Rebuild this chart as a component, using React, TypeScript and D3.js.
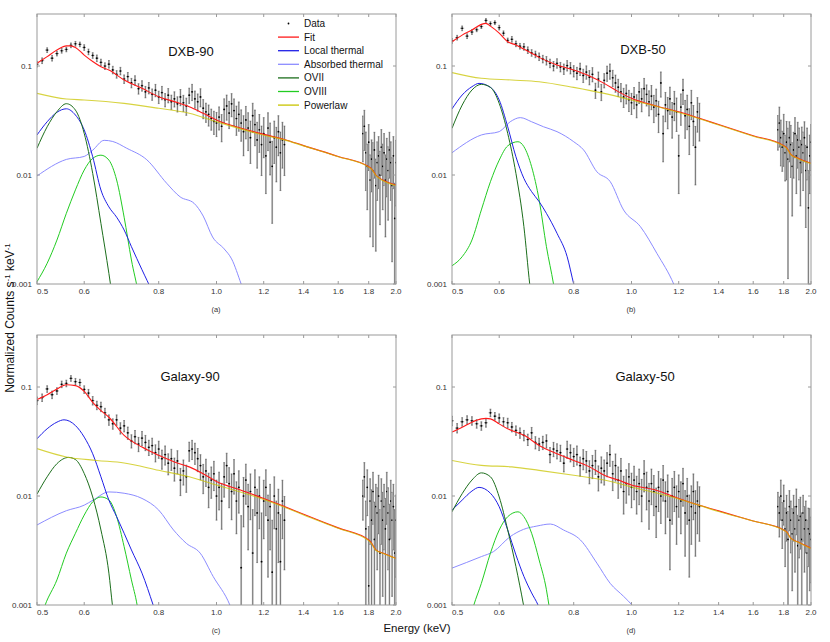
import React from "react";
import * as d3 from "d3";

// ---------- axes ----------
const xTickValues = [0.5, 0.6, 0.8, 1.0, 1.2, 1.4, 1.6, 1.8, 2.0];
const xTickLabels = ["0.5", "0.6", "0.8", "1.0", "1.2", "1.4", "1.6", "1.8", "2.0"];
const yTickValues = [0.1, 0.01, 0.001];
const yTickLabels = ["0.1", "0.01", "0.001"];

const legendLabels = ["Data", "Fit", "Local thermal", "Absorbed thermal", "OVII", "OVIII", "Powerlaw"];

// ---------- data energies (keV) ----------
const lowEnergies = [
  0.50, 0.51, 0.52, 0.53, 0.54, 0.55, 0.56, 0.57, 0.58, 0.59,
  0.60, 0.61, 0.62, 0.63, 0.64, 0.65, 0.66, 0.67, 0.68, 0.69,
  0.70, 0.71, 0.72, 0.73, 0.74, 0.75, 0.76, 0.77, 0.78, 0.79,
  0.80, 0.81, 0.82, 0.83, 0.84, 0.85, 0.86, 0.87, 0.88, 0.89,
  0.90, 0.91, 0.92, 0.93, 0.94, 0.95, 0.96, 0.97, 0.98, 0.99,
  1.00, 1.01, 1.02, 1.03, 1.04, 1.05, 1.06, 1.07, 1.08, 1.09,
  1.10, 1.11, 1.12, 1.13, 1.14, 1.15, 1.16, 1.17, 1.18, 1.19,
  1.20, 1.21, 1.22, 1.23, 1.24, 1.25, 1.26, 1.27, 1.28, 1.29,
  1.30,
];
const highEnergies = [
  1.76, 1.77, 1.78, 1.79, 1.80, 1.81, 1.82, 1.83, 1.84, 1.85,
  1.86, 1.87, 1.88, 1.89, 1.90, 1.91, 1.92, 1.93, 1.94, 1.95,
  1.96, 1.97, 1.98, 1.99, 2.00,
];

// ---------- DXB-90 ----------
const dxb90Low = [
  0.104, 0.112, 0.140, 0.118, 0.130, 0.138, 0.142, 0.155, 0.160, 0.158,
  0.148, 0.135, 0.125, 0.118, 0.108, 0.100, 0.104, 0.092, 0.084, 0.090,
  0.076, 0.080, 0.070, 0.074, 0.062, 0.066, 0.058, 0.063, 0.055, 0.060,
  0.052, 0.057, 0.049, 0.054, 0.047, 0.050, 0.045, 0.052, 0.046, 0.043,
  0.054, 0.058, 0.050, 0.047, 0.052, 0.041, 0.038, 0.036, 0.033, 0.031,
  0.030, 0.034, 0.028, 0.040, 0.043, 0.037, 0.045, 0.039, 0.033, 0.036,
  0.030, 0.025, 0.032, 0.027, 0.022, 0.035, 0.029, 0.021, 0.026, 0.019,
  0.024, 0.015, 0.027, 0.020, 0.012, 0.022, 0.018, 0.025, 0.016, 0.021,
  0.019,
];
const dxb90LowErr = [
  6, 6, 5, 6, 5, 5, 5, 5, 5, 5,
  6, 6, 6, 7, 7, 7, 8, 8, 8, 8,
  9, 9, 10, 10, 11, 11, 12, 12, 12, 13,
  13, 14, 14, 15, 15, 16, 16, 17, 17, 18,
  16, 17, 18, 18, 19, 20, 20, 22, 22, 24,
  25, 24, 28, 25, 26, 28, 24, 28, 30, 30,
  32, 40, 33, 38, 42, 30, 36, 45, 38, 48,
  40, 55, 38, 50, 70, 42, 52, 40, 55, 45,
  48,
];
const dxb90High = [
  0.024, 0.028, 0.016, 0.012, 0.020, 0.009, 0.014, 0.011, 0.017, 0.008,
  0.013, 0.015, 0.010, 0.018, 0.012, 0.016, 0.009, 0.014, 0.011, 0.017,
  0.013, 0.008, 0.015, 0.004, 0.013,
];
const dxb90HighErr = [
  45, 40, 55, 60, 45, 70, 50, 80, 45, 75,
  55, 50, 65, 45, 60, 50, 70, 55, 65, 45,
  55, 80, 50, 110, 60,
];
const dxb90Fit = [
  [0.5, 0.106], [0.52, 0.122], [0.54, 0.140], [0.56, 0.153], [0.57, 0.153], [0.58, 0.148],
  [0.60, 0.126], [0.62, 0.110], [0.64, 0.0986], [0.66, 0.0919], [0.70, 0.0744], [0.75, 0.0624],
  [0.80, 0.0523], [0.85, 0.0471], [0.90, 0.0423], [0.95, 0.0368], [1.0, 0.032], [1.1, 0.0268],
  [1.2, 0.0236], [1.3, 0.0212], [1.4, 0.0186], [1.6, 0.0148], [1.8, 0.0119], [1.82, 0.0114],
  [1.85, 0.0100], [1.9, 0.0090], [2.0, 0.0081],
];
const dxb90Powerlaw = [
  [0.5, 0.0561], [0.56, 0.0498], [0.6, 0.0488], [0.7, 0.0454], [0.8, 0.0409], [0.9, 0.0368],
  [1.0, 0.0308], [1.2, 0.0232], [1.3, 0.0210], [1.4, 0.0185], [1.6, 0.0147], [1.8, 0.0118],
  [1.82, 0.0113], [1.85, 0.0099], [1.9, 0.0089], [2.0, 0.0080],
];
const dxb90Local = [
  [0.5, 0.0233], [0.52, 0.0308], [0.54, 0.0376], [0.56, 0.0405], [0.58, 0.0355], [0.60, 0.0259],
  [0.62, 0.0147], [0.64, 0.00728], [0.66, 0.0051], [0.68, 0.0041], [0.70, 0.00313], [0.72, 0.0022],
  [0.75, 0.00135], [0.78, 0.00085], [0.80, 0.0006],
];
const dxb90Absorbed = [
  [0.5, 0.0098], [0.56, 0.0139], [0.60, 0.0148], [0.62, 0.0169], [0.648, 0.0208], [0.67, 0.0203],
  [0.707, 0.0176], [0.764, 0.0138], [0.825, 0.0084], [0.869, 0.0063], [0.917, 0.0055], [0.95, 0.0042],
  [0.985, 0.0027], [1.03, 0.0021], [1.06, 0.0017], [1.10, 0.001], [1.15, 0.0005],
];
const dxb90OVII = [
  [0.5, 0.0176], [0.52, 0.0277], [0.54, 0.0381], [0.56, 0.0451], [0.58, 0.0394], [0.60, 0.0241],
  [0.62, 0.01035], [0.64, 0.0036], [0.66, 0.00125], [0.68, 0.0004],
];
const dxb90OVIII = [
  [0.5, 0.00105], [0.52, 0.00155], [0.54, 0.00253], [0.56, 0.00445], [0.58, 0.0073], [0.60, 0.0111],
  [0.62, 0.0142], [0.64, 0.0152], [0.66, 0.0137], [0.68, 0.009], [0.70, 0.0041], [0.72, 0.00166],
  [0.74, 0.0008], [0.76, 0.0003],
];

// ---------- DXB-50 ----------
const dxb50Low = [
  0.170, 0.182, 0.222, 0.188, 0.205, 0.215, 0.230, 0.262, 0.245, 0.250,
  0.225, 0.200, 0.172, 0.176, 0.160, 0.152, 0.150, 0.140, 0.132, 0.128,
  0.122, 0.116, 0.112, 0.106, 0.100, 0.106, 0.098, 0.094, 0.101, 0.096,
  0.090, 0.086, 0.094, 0.082, 0.088, 0.079, 0.084, 0.060, 0.076, 0.058,
  0.074, 0.086, 0.090, 0.078, 0.070, 0.064, 0.058, 0.052, 0.056, 0.049,
  0.046, 0.052, 0.044, 0.058, 0.050, 0.062, 0.055, 0.047, 0.053, 0.042,
  0.048, 0.036, 0.070, 0.024, 0.044, 0.039, 0.050, 0.034, 0.045, 0.038,
  0.015, 0.042, 0.060, 0.035, 0.040, 0.028, 0.046, 0.031, 0.018, 0.038,
  0.033,
];
const dxb50LowErr = [
  5, 5, 5, 5, 5, 4, 4, 4, 4, 4,
  5, 5, 5, 6, 6, 6, 7, 7, 7, 7,
  8, 8, 9, 9, 10, 10, 10, 11, 11, 12,
  12, 13, 13, 14, 14, 15, 15, 16, 16, 17,
  15, 16, 16, 17, 18, 18, 19, 20, 20, 22,
  22, 22, 24, 22, 24, 24, 22, 26, 25, 28,
  28, 32, 26, 45, 30, 32, 28, 36, 30, 34,
  55, 32, 26, 38, 35, 45, 30, 40, 55, 35,
  38,
];
const dxb50High = [
  0.026, 0.030, 0.022, 0.018, 0.024, 0.016, 0.020, 0.014, 0.022, 0.019,
  0.012, 0.017, 0.024, 0.015, 0.021, 0.018, 0.013, 0.019, 0.016, 0.022,
  0.011, 0.018, 0.005, 0.015, 0.020,
];
const dxb50HighErr = [
  35, 40, 45, 40, 50, 45, 55, 92, 40, 50,
  65, 45, 40, 55, 45, 50, 60, 45, 55, 40,
  70, 50, 120, 55, 45,
];
const dxb50Fit = [
  [0.5, 0.167], [0.52, 0.192], [0.54, 0.214], [0.56, 0.241], [0.57, 0.246], [0.58, 0.232],
  [0.60, 0.200], [0.62, 0.167], [0.64, 0.156], [0.66, 0.143], [0.70, 0.120], [0.75, 0.102],
  [0.80, 0.0918], [0.85, 0.081], [0.90, 0.0693], [0.95, 0.0582], [1.0, 0.0505], [1.1, 0.043],
  [1.2, 0.0381], [1.3, 0.0331], [1.4, 0.029], [1.6, 0.0229], [1.8, 0.0186], [1.82, 0.0178],
  [1.85, 0.0155], [1.9, 0.0143], [2.0, 0.0128],
];
const dxb50Powerlaw = [
  [0.5, 0.0869], [0.56, 0.0771], [0.63, 0.0744], [0.70, 0.0718], [0.80, 0.0637], [0.90, 0.0561],
  [1.0, 0.0488], [1.2, 0.0375], [1.3, 0.0328], [1.4, 0.0287], [1.6, 0.0227], [1.8, 0.0184],
  [1.82, 0.0176], [1.85, 0.0154], [1.9, 0.0142], [2.0, 0.0127],
];
const dxb50Local = [
  [0.5, 0.0404], [0.52, 0.0542], [0.54, 0.0646], [0.555, 0.0693], [0.58, 0.0637], [0.60, 0.0488],
  [0.62, 0.0277], [0.64, 0.0147], [0.66, 0.0093], [0.68, 0.00703], [0.70, 0.0057], [0.72, 0.00445],
  [0.75, 0.00292], [0.78, 0.00178], [0.80, 0.001], [0.82, 0.0006],
];
const dxb50Absorbed = [
  [0.5, 0.016], [0.56, 0.0233], [0.60, 0.025], [0.626, 0.0308], [0.651, 0.0336], [0.68, 0.0308],
  [0.712, 0.0277], [0.75, 0.025], [0.80, 0.0202], [0.831, 0.017], [0.875, 0.0107], [0.921, 0.0087],
  [0.97, 0.00477], [1.035, 0.00336], [1.103, 0.00191], [1.177, 0.001], [1.22, 0.0006],
];
const dxb50OVII = [
  [0.5, 0.0268], [0.52, 0.0438], [0.54, 0.0602], [0.56, 0.0679], [0.58, 0.0637], [0.60, 0.0454],
  [0.62, 0.0241], [0.64, 0.01035], [0.66, 0.00336], [0.675, 0.001], [0.69, 0.0004],
];
const dxb50OVIII = [
  [0.5, 0.00147], [0.52, 0.00178], [0.54, 0.00253], [0.56, 0.00478], [0.58, 0.00868], [0.60, 0.0137],
  [0.62, 0.0185], [0.645, 0.0202], [0.66, 0.0182], [0.68, 0.0119], [0.70, 0.0059], [0.72, 0.0022],
  [0.74, 0.001], [0.76, 0.0004],
];

// ---------- Galaxy-90 ----------
const galaxy90Low = [
  0.075, 0.080, 0.096, 0.085, 0.092, 0.106, 0.108, 0.120, 0.112, 0.110,
  0.095, 0.088, 0.075, 0.068, 0.066, 0.058, 0.050, 0.046, 0.050, 0.042,
  0.044, 0.038, 0.032, 0.035, 0.030, 0.034, 0.031, 0.028, 0.029, 0.025,
  0.027, 0.022, 0.024, 0.020, 0.022, 0.018, 0.021, 0.014, 0.017, 0.015,
  0.026, 0.027, 0.025, 0.022, 0.019, 0.015, 0.017, 0.012, 0.014, 0.016,
  0.010, 0.012, 0.009, 0.015, 0.019, 0.013, 0.011, 0.016, 0.009, 0.012,
  0.0022, 0.010, 0.014, 0.008, 0.011, 0.003, 0.012, 0.007, 0.010, 0.0025,
  0.009, 0.012, 0.006, 0.008, 0.002, 0.010, 0.005, 0.007, 0.0025, 0.009,
  0.006,
];
const galaxy90LowErr = [
  8, 8, 7, 8, 7, 7, 7, 6, 7, 7,
  8, 8, 9, 9, 10, 10, 11, 11, 11, 12,
  12, 13, 14, 14, 15, 15, 16, 16, 17, 18,
  18, 20, 20, 22, 22, 24, 24, 28, 26, 28,
  20, 20, 22, 24, 26, 30, 28, 35, 32, 30,
  40, 38, 45, 35, 30, 40, 45, 35, 50, 42,
  200, 48, 40, 60, 45, 150, 45, 65, 50, 180,
  55, 45, 70, 60, 200, 50, 80, 65, 170, 55,
  65,
];
const galaxy90High = [
  0.010, 0.015, 0.005, 0.012, 0.0015, 0.009, 0.006, 0.011, 0.004, 0.008,
  0.007, 0.010, 0.003, 0.009, 0.006, 0.008, 0.005, 0.011, 0.007, 0.004,
  0.009, 0.006, 0.008, 0.003, 0.006,
];
const galaxy90HighErr = [
  40, 35, 80, 45, 250, 60, 90, 50, 120, 60,
  70, 55, 150, 60, 80, 60, 90, 50, 70, 110,
  55, 80, 60, 150, 70,
];
const galaxy90Fit = [
  [0.5, 0.0766], [0.52, 0.085], [0.54, 0.0959], [0.56, 0.105], [0.58, 0.103], [0.60, 0.0912],
  [0.62, 0.0724], [0.64, 0.0608], [0.66, 0.0528], [0.70, 0.036], [0.75, 0.0281], [0.80, 0.0236],
  [0.85, 0.0205], [0.90, 0.0185], [0.95, 0.016], [1.0, 0.0136], [1.1, 0.0113], [1.2, 0.0095],
  [1.3, 0.0080], [1.4, 0.0068], [1.6, 0.0051], [1.8, 0.00395], [1.82, 0.0037], [1.85, 0.0032],
  [1.9, 0.0030], [2.0, 0.00268],
];
const galaxy90Powerlaw = [
  [0.5, 0.0272], [0.56, 0.0228], [0.63, 0.0212], [0.70, 0.0201], [0.80, 0.0172], [0.90, 0.015],
  [1.0, 0.0126], [1.2, 0.0093], [1.3, 0.0079], [1.4, 0.0067], [1.6, 0.00505], [1.8, 0.0039],
  [1.82, 0.00365], [1.85, 0.00318], [1.9, 0.00298], [2.0, 0.00267],
];
const galaxy90Local = [
  [0.5, 0.0335], [0.52, 0.0414], [0.54, 0.0476], [0.555, 0.05], [0.58, 0.0443], [0.60, 0.0347],
  [0.62, 0.0244], [0.64, 0.015], [0.66, 0.00917], [0.68, 0.00646], [0.70, 0.00455], [0.72, 0.0032],
  [0.75, 0.00196], [0.783, 0.001], [0.80, 0.0007],
];
const galaxy90Absorbed = [
  [0.5, 0.00542], [0.56, 0.00733], [0.60, 0.00824], [0.621, 0.00917], [0.66, 0.0109], [0.70, 0.0106],
  [0.75, 0.0095], [0.80, 0.00743], [0.847, 0.00488], [0.89, 0.00368], [0.939, 0.00299], [0.987, 0.00183],
  [1.053, 0.001], [1.1, 0.0005],
];
const galaxy90OVII = [
  [0.5, 0.0104], [0.52, 0.015], [0.54, 0.0198], [0.565, 0.0226], [0.58, 0.0216], [0.60, 0.0161],
  [0.62, 0.0098], [0.64, 0.00488], [0.66, 0.00196], [0.669, 0.001], [0.68, 0.0005],
];
const galaxy90OVIII = [
  [0.505, 0.0007], [0.516, 0.001], [0.54, 0.0017], [0.56, 0.00299], [0.58, 0.00455], [0.60, 0.00668],
  [0.62, 0.00885], [0.64, 0.0098], [0.66, 0.0092], [0.68, 0.00646], [0.70, 0.00343], [0.72, 0.0017],
  [0.736, 0.001], [0.75, 0.0005],
];

// ---------- Galaxy-50 ----------
const galaxy50Low = [
  0.049, 0.042, 0.048, 0.050, 0.049, 0.046, 0.044, 0.047, 0.058, 0.054,
  0.052, 0.048, 0.047, 0.043, 0.040, 0.038, 0.036, 0.033, 0.038, 0.031,
  0.030, 0.031, 0.032, 0.024, 0.027, 0.026, 0.025, 0.020, 0.027, 0.025,
  0.023, 0.024, 0.019, 0.022, 0.021, 0.017, 0.019, 0.021, 0.015, 0.018,
  0.017, 0.020, 0.024, 0.016, 0.019, 0.014, 0.017, 0.011, 0.013, 0.015,
  0.012, 0.014, 0.011, 0.013, 0.010, 0.016, 0.012, 0.009, 0.013, 0.011,
  0.008, 0.012, 0.010, 0.014, 0.009, 0.011, 0.006, 0.010, 0.012, 0.008,
  0.011, 0.009, 0.013, 0.007, 0.010, 0.006, 0.008, 0.011, 0.007, 0.009,
  0.008,
];
const galaxy50LowErr = [
  10, 10, 9, 9, 9, 9, 9, 9, 8, 8,
  9, 9, 10, 10, 10, 11, 11, 12, 12, 13,
  13, 14, 14, 16, 15, 16, 17, 17, 18, 18,
  19, 20, 20, 21, 22, 24, 24, 25, 26, 27,
  26, 25, 22, 30, 28, 32, 30, 38, 34, 32,
  35, 34, 38, 36, 42, 32, 38, 45, 36, 40,
  48, 40, 44, 36, 50, 42, 65, 45, 40, 55,
  42, 50, 38, 60, 45, 70, 55, 45, 60, 50,
  52,
];
const galaxy50High = [
  0.008, 0.007, 0.010, 0.006, 0.009, 0.005, 0.007, 0.004, 0.008, 0.006,
  0.0045, 0.007, 0.005, 0.008, 0.0035, 0.006, 0.0065, 0.004, 0.007, 0.005,
  0.006, 0.003, 0.005, 0.0045, 0.004,
];
const galaxy50HighErr = [
  35, 40, 40, 45, 40, 55, 45, 80, 40, 50,
  70, 45, 60, 45, 90, 55, 50, 75, 45, 60,
  50, 100, 55, 70, 60,
];
const galaxy50Fit = [
  [0.5, 0.0386], [0.52, 0.0428], [0.54, 0.0476], [0.56, 0.051], [0.57, 0.0516], [0.58, 0.051],
  [0.60, 0.0459], [0.62, 0.0414], [0.64, 0.0386], [0.66, 0.036], [0.70, 0.0291], [0.75, 0.0244],
  [0.80, 0.0212], [0.85, 0.0185], [0.90, 0.0155], [0.95, 0.014], [1.0, 0.0126], [1.1, 0.0113],
  [1.2, 0.0095], [1.3, 0.00824], [1.4, 0.0073], [1.6, 0.0059], [1.8, 0.00488], [1.82, 0.0047],
  [1.85, 0.0041], [1.9, 0.0038], [2.0, 0.00332],
];
const galaxy50Powerlaw = [
  [0.5, 0.0212], [0.56, 0.0191], [0.63, 0.0185], [0.70, 0.0172], [0.80, 0.0155], [0.90, 0.014],
  [1.0, 0.0121], [1.2, 0.0094], [1.3, 0.0082], [1.4, 0.0072], [1.6, 0.0059], [1.8, 0.00485],
  [1.82, 0.00467], [1.85, 0.00408], [1.9, 0.00378], [2.0, 0.0033],
];
const galaxy50Local = [
  [0.5, 0.00743], [0.52, 0.00917], [0.54, 0.0111], [0.555, 0.012], [0.58, 0.0106], [0.60, 0.00797],
  [0.62, 0.00488], [0.64, 0.00288], [0.66, 0.00183], [0.68, 0.00129], [0.697, 0.001], [0.72, 0.0006],
];
const galaxy50Absorbed = [
  [0.5, 0.00218], [0.56, 0.00278], [0.587, 0.00309], [0.626, 0.00424], [0.659, 0.00494], [0.694, 0.0053],
  [0.731, 0.00553], [0.769, 0.00488], [0.821, 0.00395], [0.875, 0.00242], [0.921, 0.00158], [0.97, 0.0012],
  [1.002, 0.001], [1.05, 0.0007],
];
const galaxy50OVII = [
  [0.5, 0.00716], [0.52, 0.0105], [0.54, 0.014], [0.56, 0.0163], [0.58, 0.015], [0.60, 0.0098],
  [0.62, 0.00488], [0.64, 0.00225], [0.659, 0.001], [0.67, 0.0006],
];
const galaxy50OVIII = [
  [0.53, 0.0006], [0.544, 0.001], [0.56, 0.00158], [0.58, 0.00299], [0.60, 0.00488], [0.62, 0.00646],
  [0.645, 0.00716], [0.66, 0.00646], [0.68, 0.00455], [0.70, 0.00259], [0.72, 0.00138], [0.727, 0.001],
  [0.74, 0.0006],
];

// ---------- layout / styles ----------
const PW = 359;
const PH = 270;
const FONT = "'Liberation Sans', Arial, Helvetica, sans-serif";
const COLORS = {
  fit: "#ff1a1a",
  local: "#1f1fe6",
  absorbed: "#8c8cff",
  ovii: "#1c6e1c",
  oviii: "#22cc22",
  pow: "#c9c400",
  frame: "#9a9a9a",
};

type Curve = number[][];
type PanelDef = {
  id: string;
  title: string;
  tag: string;
  left: number;
  top: number;
  titleX: number;
  titleY: number;
  low: number[];
  lowErr: number[];
  high: number[];
  highErr: number[];
  fit: Curve;
  pow: Curve;
  local: Curve;
  absorbed: Curve;
  ovii: Curve;
  oviii: Curve;
  legend: boolean;
};

const panels: PanelDef[] = [
  { id: "a", title: "DXB-90", tag: "(a)", left: 37, top: 14, titleX: 191, titleY: 56,
    low: dxb90Low, lowErr: dxb90LowErr, high: dxb90High, highErr: dxb90HighErr,
    fit: dxb90Fit, pow: dxb90Powerlaw, local: dxb90Local, absorbed: dxb90Absorbed, ovii: dxb90OVII, oviii: dxb90OVIII, legend: true },
  { id: "b", title: "DXB-50", tag: "(b)", left: 452, top: 14, titleX: 643, titleY: 54,
    low: dxb50Low, lowErr: dxb50LowErr, high: dxb50High, highErr: dxb50HighErr,
    fit: dxb50Fit, pow: dxb50Powerlaw, local: dxb50Local, absorbed: dxb50Absorbed, ovii: dxb50OVII, oviii: dxb50OVIII, legend: false },
  { id: "c", title: "Galaxy-90", tag: "(c)", left: 37, top: 335, titleX: 190, titleY: 381,
    low: galaxy90Low, lowErr: galaxy90LowErr, high: galaxy90High, highErr: galaxy90HighErr,
    fit: galaxy90Fit, pow: galaxy90Powerlaw, local: galaxy90Local, absorbed: galaxy90Absorbed, ovii: galaxy90OVII, oviii: galaxy90OVIII, legend: false },
  { id: "d", title: "Galaxy-50", tag: "(d)", left: 452, top: 335, titleX: 645, titleY: 381,
    low: galaxy50Low, lowErr: galaxy50LowErr, high: galaxy50High, highErr: galaxy50HighErr,
    fit: galaxy50Fit, pow: galaxy50Powerlaw, local: galaxy50Local, absorbed: galaxy50Absorbed, ovii: galaxy50OVII, oviii: galaxy50OVIII, legend: false },
];

function Panel({ p }: { p: PanelDef }) {
  const x = d3.scaleLog().domain([0.5, 2.0]).range([p.left, p.left + PW]);
  const y = d3.scaleLog().domain([0.001, 0.3]).range([p.top + PH, p.top]);
  const line = d3
    .line<number[]>()
    .x((d) => x(d[0]))
    .y((d) => y(d[1]))
    .curve(d3.curveMonotoneX);

  const points = [
    ...lowEnergies.map((e, i) => ({ e, v: p.low[i], err: p.lowErr[i] })),
    ...highEnergies.map((e, i) => ({ e, v: p.high[i], err: p.highErr[i] })),
  ];
  const right = p.left + PW;
  const bottom = p.top + PH;
  const clipId = `clip-${p.id}`;

  const legendX = 278;
  const legendY0 = 23.5;
  const legendDy = 13.6;
  const legendColors = [null, COLORS.fit, COLORS.local, COLORS.absorbed, COLORS.ovii, COLORS.oviii, COLORS.pow];

  return (
    <g>
      <defs>
        <clipPath id={clipId}>
          <rect x={p.left} y={p.top} width={PW} height={PH} />
        </clipPath>
      </defs>
      <rect x={p.left} y={p.top} width={PW} height={PH} fill="#fff" />
      <g clipPath={`url(#${clipId})`}>
        {points.map((pt, i) => {
          const cx = x(pt.e);
          const cy = y(pt.v);
          const up = y(pt.v * (1 + pt.err / 100));
          const lo = y(Math.max(pt.v * (1 - pt.err / 100), 0.0004));
          const hw = Math.min(x(pt.e + 0.004) - cx, 2.0);
          return (
            <g key={i}>
              <rect x={cx - 0.9} y={up} width={1.8} height={lo - up} fill="#c8c8c8" />
              <line x1={cx} x2={cx} y1={up} y2={lo} stroke="#454545" strokeWidth={0.6} />
              <line x1={cx - 0.9} x2={cx + 0.9} y1={up} y2={up} stroke="#454545" strokeWidth={0.5} />
              <line x1={cx - 0.9} x2={cx + 0.9} y1={lo} y2={lo} stroke="#454545" strokeWidth={0.5} />
              <line x1={cx - hw} x2={cx + hw} y1={cy} y2={cy} stroke="#454545" strokeWidth={0.6} />
              <circle cx={cx} cy={cy} r={0.85} fill="#000" />
            </g>
          );
        })}
        <path d={line(p.absorbed) || ""} fill="none" stroke={COLORS.absorbed} strokeWidth={1} />
        <path d={line(p.oviii) || ""} fill="none" stroke={COLORS.oviii} strokeWidth={1} />
        <path d={line(p.local) || ""} fill="none" stroke={COLORS.local} strokeWidth={1} />
        <path d={line(p.ovii) || ""} fill="none" stroke={COLORS.ovii} strokeWidth={1} />
        <path d={line(p.fit) || ""} fill="none" stroke={COLORS.fit} strokeWidth={1.1} />
        <path d={line(p.pow) || ""} fill="none" stroke={COLORS.pow} strokeWidth={1.1} strokeOpacity={0.75} />
      </g>
      <rect x={p.left} y={p.top} width={PW} height={PH} fill="none" stroke={COLORS.frame} strokeWidth={1} />
      {xTickValues.map((t, i) => (
        <g key={`xt${i}`}>
          <line x1={x(t)} x2={x(t)} y1={bottom} y2={bottom - 3} stroke={COLORS.frame} />
          <line x1={x(t)} x2={x(t)} y1={p.top} y2={p.top + 3} stroke={COLORS.frame} />
          <text
            x={x(t)}
            y={bottom + 9.5}
            fontSize={8}
            fill="#333"
            fontFamily={FONT}
            textAnchor={i === 0 ? "start" : "middle"}
          >
            {xTickLabels[i]}
          </text>
        </g>
      ))}
      {yTickValues.map((t, i) => (
        <g key={`yt${i}`}>
          <line x1={p.left} x2={p.left + 3} y1={y(t)} y2={y(t)} stroke={COLORS.frame} />
          <line x1={right} x2={right - 3} y1={y(t)} y2={y(t)} stroke={COLORS.frame} />
          <text x={p.left - 5} y={y(t) + 3} fontSize={8} fill="#333" fontFamily={FONT} textAnchor="end">
            {yTickLabels[i]}
          </text>
        </g>
      ))}
      <text x={p.titleX} y={p.titleY} fontSize={13} fontFamily={FONT} textAnchor="middle" fill="#111">
        {p.title}
      </text>
      <text x={p.left + 179} y={bottom + 28} fontSize={7.5} fontFamily={FONT} textAnchor="middle" fill="#333">
        {p.tag}
      </text>
      {p.legend &&
        legendLabels.map((lab, i) => {
          const ly = legendY0 + i * legendDy;
          const col = legendColors[i];
          return (
            <g key={`lg${i}`}>
              {col ? (
                <line x1={legendX} x2={legendX + 21} y1={ly} y2={ly} stroke={col} strokeWidth={1.3} />
              ) : (
                <circle cx={legendX + 10.5} cy={ly} r={0.9} fill="#000" />
              )}
              <text x={legendX + 26} y={ly + 3.5} fontSize={10} fontFamily={FONT} fill="#111">
                {lab}
              </text>
            </g>
          );
        })}
    </g>
  );
}

export default function App() {
  return (
    <svg
      width={830}
      height={642}
      viewBox="0 0 830 642"
      style={{ position: "absolute", left: 0, top: 0, background: "#fff" }}
    >
      <rect x={0} y={0} width={830} height={642} fill="#fff" />
      {panels.map((p) => (
        <Panel key={p.id} p={p} />
      ))}
      <text
        transform="translate(14,318) rotate(-90)"
        fontSize={12}
        fontFamily={FONT}
        textAnchor="middle"
        fill="#111"
      >
        Normalized Counts s
        <tspan dy={-4} fontSize={8}>-1</tspan>
        <tspan dy={4}> keV</tspan>
        <tspan dy={-4} fontSize={8}>-1</tspan>
      </text>
      <text x={417} y={632} fontSize={11.5} fontFamily={FONT} textAnchor="middle" fill="#111">
        Energy (keV)
      </text>
    </svg>
  );
}
